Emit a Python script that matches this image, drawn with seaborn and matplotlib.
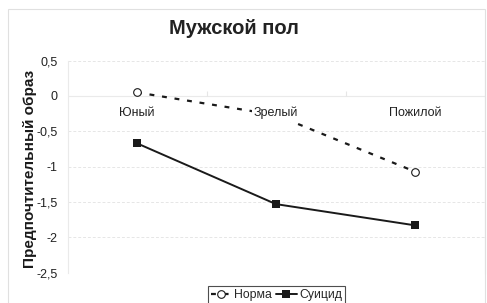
import matplotlib
matplotlib.use("Agg")
import matplotlib.pyplot as plt
import seaborn as sns
import pandas as pd
from matplotlib.patches import Rectangle

# Данные
categories = ["Юный", "Зрелый", "Пожилой"]
norma = [0.05, -0.27, -1.07]
suicid = [-0.67, -1.53, -1.83]
y_ticks = [0.5, 0, -0.5, -1, -1.5, -2, -2.5]
y_tick_labels = ["0,5", "0", "-0,5", "-1", "-1,5", "-2", "-2,5"]

sns.set_theme(style="white")
plt.rcParams["font.family"] = ["Liberation Sans", "DejaVu Sans"]

fig = plt.figure(figsize=(4.87, 3.03), dpi=100)
ax = fig.add_axes([67.5 / 487, 0.1, (484.5 - 67.5) / 487, 0.7])

x = list(range(len(categories)))
sns.lineplot(x=x, y=norma, ax=ax, color="#1a1a1a", lw=1.6, label="Норма",
             marker="o", markersize=5.5, markerfacecolor="white",
             markeredgecolor="#1a1a1a", markeredgewidth=0.8)
ax.lines[-1].set_dashes([2.2, 3.5])
sns.lineplot(x=x, y=suicid, ax=ax, color="#1a1a1a", lw=1.4, label="Суицид",
             marker="s", markersize=5.5, markeredgewidth=0)

ax.set_xlim(-0.5, 2.5)
ax.set_ylim(-2.5, 0.5)
ax.set_yticks(y_ticks)
ax.set_yticklabels(y_tick_labels)
ax.set_xticks([])
ax.tick_params(axis="y", length=0, pad=7, labelsize=9, colors="#222222")

# сетка
for v in y_ticks:
    ax.axhline(v, color="#e6e6e6", lw=0.7, ls=(0, (3, 2)), zorder=0)
ax.axhline(0, color="#eaeaea", lw=0.8, zorder=0)
ax.vlines([0.5, 1.5], 0, 0.07, color="#e6e6e6", lw=0.8, zorder=0)

for s in ["top", "bottom"]:
    ax.spines[s].set_visible(False)
for s in ["left", "right"]:
    ax.spines[s].set_color("#eaeaea")
    ax.spines[s].set_linewidth(0.8)

# подписи категорий у оси 0
for i, c in enumerate(categories):
    ax.annotate(c, xy=(i, 0), xytext=(0, -11), textcoords="offset pixels",
                ha="center", va="top", fontsize=9, color="#222222",
                bbox=dict(facecolor="white", edgecolor="none", pad=1.5),
                zorder=5)

ax.set_ylabel("Предпочтительный образ", fontsize=11, fontweight="bold",
              color="#1a1a1a")
ax.yaxis.set_label_coords((37 - 67.5) / 417, 0.49)
fig.text(233.5 / 487, 1 - 28 / 303, "Мужской пол", ha="center", va="center",
         fontsize=14.5, fontweight="bold", color="#222222")

ax.legend_.remove()
h, l = ax.get_legend_handles_labels()
leg = fig.legend(h, l, loc="upper center", bbox_to_anchor=(276.5 / 487, 1 - 286 / 303),
                 ncol=2, frameon=True, fontsize=8.8, handlelength=1.7,
                 handletextpad=0.2, columnspacing=0.3, borderpad=0.25,
                 fancybox=False, borderaxespad=0)
leg.get_frame().set_edgecolor("#222222")
leg.get_frame().set_linewidth(0.8)

fig.patches.append(Rectangle((8 / 487, -0.1), (485 - 8) / 487, 1.1 - 9 / 303,
                             transform=fig.transFigure, fill=False,
                             edgecolor="#e0e0e0", lw=0.8))

fig.savefig("out.png", dpi=100)
